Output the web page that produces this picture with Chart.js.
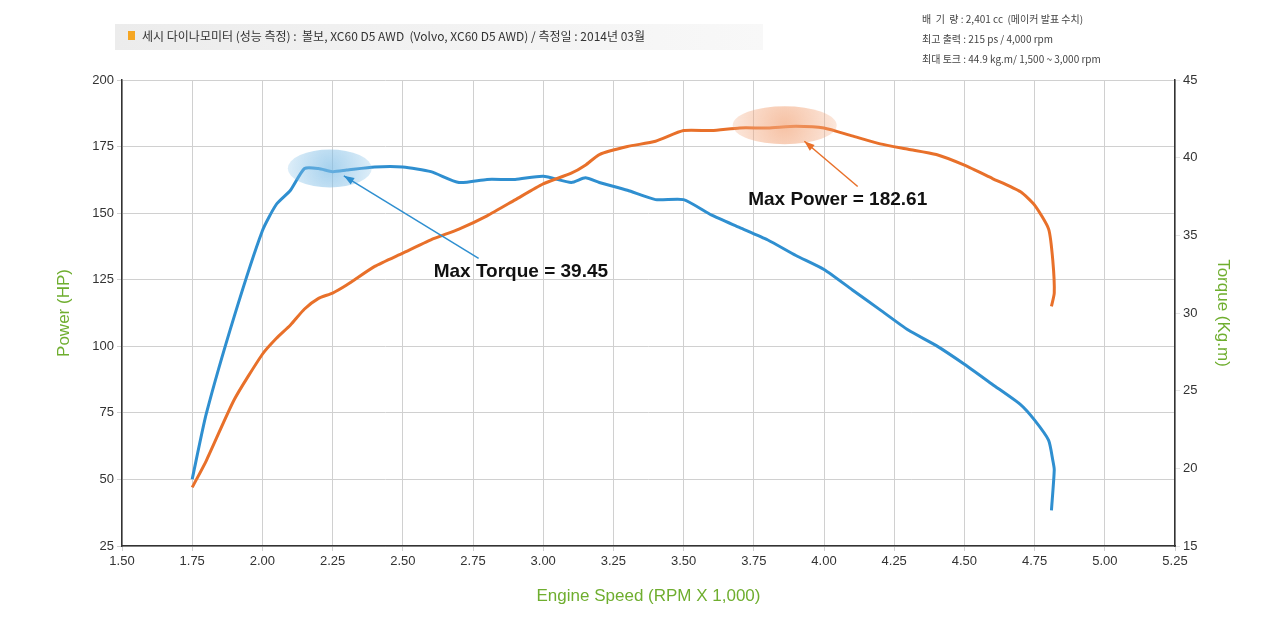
<!DOCTYPE html>
<html><head><meta charset="utf-8">
<script src="https://cdn.jsdelivr.net/npm/chart.js@4"></script>
<style>html,body{margin:0;background:#fff}#wrap{width:1280px;height:621px}</style>
</head><body><div id="wrap"><canvas id="grafico"></canvas></div>
<script>
// Dados
const rpm = [1.75,1.80,1.90,2.00,2.05,2.10,2.15,2.20,2.25,2.30,2.40,2.50,2.60,2.70,2.80,2.90,3.00,3.10,3.15,3.20,3.30,3.40,3.50,3.60,3.70,3.80,3.90,4.00,4.10,4.20,4.30,4.40,4.50,4.60,4.70,4.75,4.80,4.815,4.82,4.81];
const potencia = [47,57,80,97,103,108,114,118,120,123,130,135,140,144,149,155,161,165,168,172,175,177,181,181,182,182,182.6,182,179,176,174,172,168,163,158,153,144,132,120,115];
const torque = [19.3,23.5,29.8,35.3,37.0,37.9,39.3,39.3,39.1,39.2,39.4,39.4,39.1,38.4,38.6,38.6,38.8,38.4,38.7,38.4,37.9,37.3,37.3,36.3,35.5,34.7,33.7,32.8,31.5,30.2,28.9,27.9,26.7,25.4,24.1,23.1,21.8,20.5,19.9,17.3];
const xTicks = [1.5,1.75,2,2.25,2.5,2.75,3,3.25,3.5,3.75,4,4.25,4.5,4.75,5,5.25];
const titulo = "세시 다이나모미터 (성능 측정) :  볼보, XC60 D5 AWD  (Volvo, XC60 D5 AWD) / 측정일 : 2014년 03월";
const notas = ["배  기  량 : 2,401 cc  (메이커 발표 수치)", "최고 출력 : 215 ps / 4,000 rpm", "최대 토크 : 44.9 kg.m/ 1,500 ~ 3,000 rpm"];

const green = "#6fae2f";
const orange = "#e8702a";
const blue = "#2f8fd0";

const extras = {
  id: "extras",
  afterDraw(chart) {
    const c = chart.ctx, x = chart.scales.x, yl = chart.scales.y, yr = chart.scales.y2;
    c.save();
    // cabeçalho
    const g = c.createLinearGradient(115, 0, 765, 0);
    g.addColorStop(0, "#ececec"); g.addColorStop(1, "#f8f8f8");
    c.fillStyle = g; c.fillRect(115, 24, 648, 26);
    c.fillStyle = "#f5a623"; c.fillRect(128, 31, 7, 9);
    c.fillStyle = "#333"; c.font = "12px 'Noto Sans CJK KR'"; c.textBaseline = "middle";
    c.fillText(titulo, 142, 36);
    c.font = "10px 'Noto Sans CJK KR'"; c.fillStyle = "#444";
    notas.forEach((t, i) => c.fillText(t, 922, 19 + i * 20));
    // elipses
    function elipse(xv, yv, scale, rx, ry, col) {
      const grd = c.createRadialGradient(x.getPixelForValue(xv), scale.getPixelForValue(yv), 2, x.getPixelForValue(xv), scale.getPixelForValue(yv), rx);
      grd.addColorStop(0, col + "aa"); grd.addColorStop(1, col + "44");
      c.fillStyle = grd; c.beginPath();
      c.ellipse(x.getPixelForValue(xv), scale.getPixelForValue(yv), rx, ry, 0, 0, Math.PI * 2); c.fill();
    }
    elipse(2.24, 39.3, yr, 42, 19, "#7fbde6");
    elipse(3.86, 183, yl, 52, 19, "#f2a57a");
    // setas
    function seta(x1, y1, x2, y2, col) {
      c.strokeStyle = col; c.fillStyle = col; c.lineWidth = 1.5;
      c.beginPath(); c.moveTo(x1, y1); c.lineTo(x2, y2); c.stroke();
      const a = Math.atan2(y2 - y1, x2 - x1);
      c.beginPath(); c.moveTo(x2, y2);
      c.lineTo(x2 - 11 * Math.cos(a - 0.35), y2 - 11 * Math.sin(a - 0.35));
      c.lineTo(x2 - 11 * Math.cos(a + 0.35), y2 - 11 * Math.sin(a + 0.35));
      c.closePath(); c.fill();
    }
    seta(x.getPixelForValue(2.77), yl.getPixelForValue(133), x.getPixelForValue(2.29), yl.getPixelForValue(164), blue);
    seta(x.getPixelForValue(4.12), yl.getPixelForValue(160), x.getPixelForValue(3.93), yl.getPixelForValue(177), orange);
    c.fillStyle = "#111"; c.font = "bold 19px Arial, 'Liberation Sans'"; c.textBaseline = "middle";
    c.fillText("Max Torque = 39.45", x.getPixelForValue(2.61), yl.getPixelForValue(128));
    c.fillText("Max Power = 182.61", x.getPixelForValue(3.73), yl.getPixelForValue(155));
    c.restore();
  }
};

new Chart(document.getElementById("grafico"), {
  type: "line",
  data: {
    datasets: [
      { label: "Power", data: rpm.map((r, i) => ({ x: r, y: potencia[i] })), borderColor: orange, borderWidth: 3, pointRadius: 0, yAxisID: "y", tension: 0.2 },
      { label: "Torque", data: rpm.map((r, i) => ({ x: r, y: torque[i] })), borderColor: blue, borderWidth: 3, pointRadius: 0, yAxisID: "y2", tension: 0.2 }
    ]
  },
  options: {
    responsive: true, maintainAspectRatio: false, animation: false,
    layout: { padding: { left: 50, right: 43, top: 80, bottom: 10 } },
    plugins: { legend: { display: false }, tooltip: { enabled: false } },
    scales: {
      x: {
        type: "linear", min: 1.5, max: 5.25,
        afterBuildTicks: s => { s.ticks = xTicks.map(v => ({ value: v })); },
        afterFit: s => { s.height = 65; },
        ticks: { color: "#333", font: { size: 13 }, callback: v => v.toFixed(2), maxRotation: 0, autoSkip: false },
        grid: { color: "#d0d0d0", drawTicks: true, tickLength: 5 },
        border: { color: "#333", width: 1.5 },
        title: { display: true, text: "Engine Speed (RPM X 1,000)", color: green, font: { size: 17 }, padding: { top: 2 } }
      },
      y: {
        min: 25, max: 200, position: "left",
        ticks: { stepSize: 25, color: "#333", font: { size: 13 } },
        afterFit: s => { s.width = 72; },
        grid: { color: "#d0d0d0", tickLength: 5 },
        border: { color: "#333", width: 1.5 },
        title: { display: true, text: "Power (HP)", color: green, font: { size: 17 } }
      },
      y2: {
        min: 15, max: 45, position: "right",
        ticks: { stepSize: 5, color: "#333", font: { size: 13 } },
        afterFit: s => { s.width = 62; },
        grid: { drawOnChartArea: false, tickLength: 5 },
        border: { color: "#333", width: 1.5 },
        title: { display: true, text: "Torque (Kg.m)", color: green, font: { size: 17 } }
      }
    }
  },
  plugins: [extras]
});
</script></body></html>
